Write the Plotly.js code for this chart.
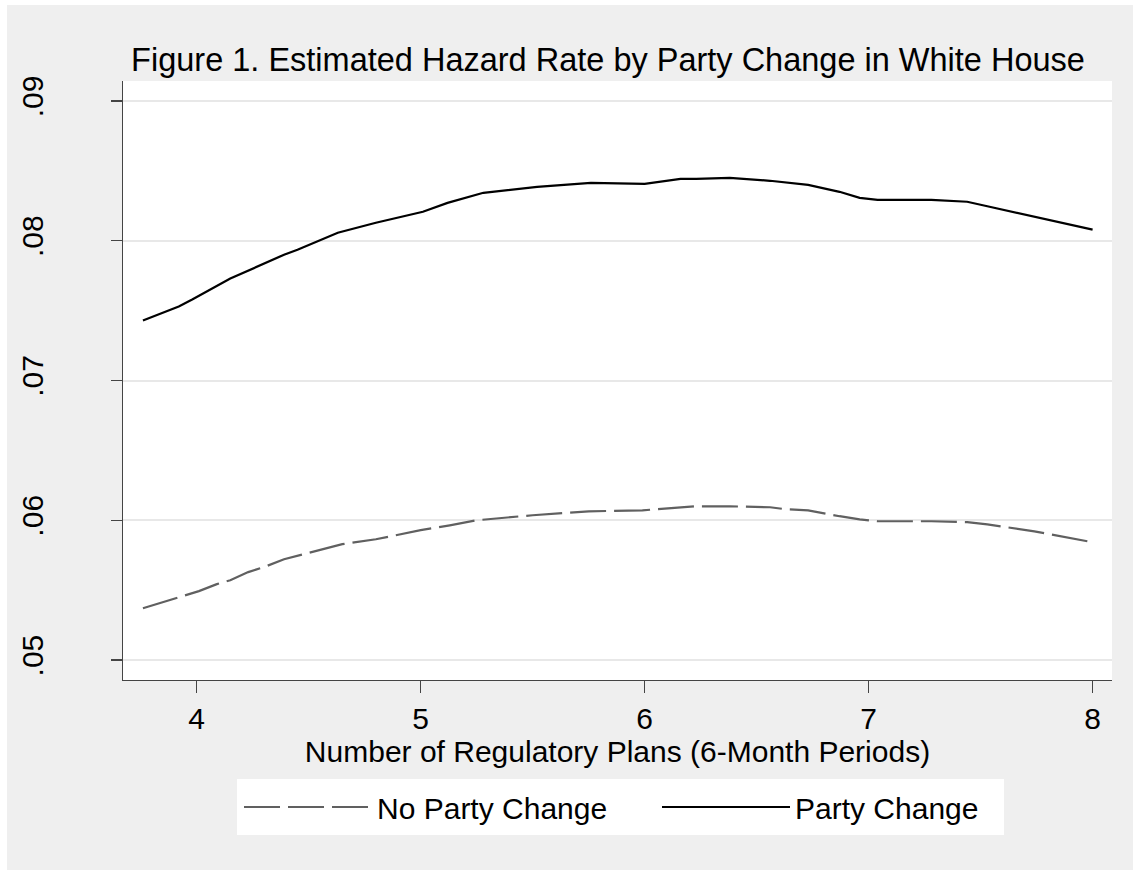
<!DOCTYPE html>
<html>
<head>
<meta charset="utf-8">
<script src="https://cdn.plot.ly/plotly-3.0.1.min.js"></script>
<style>
  html, body { margin: 0; padding: 0; background: #ffffff; }
  #chart { position: absolute; left: 7px; top: 5px; width: 1126px; height: 865px; }
</style>
</head>
<body>
<div id="chart"></div>
<script>
// ---- data ----
const xNoChange = [3.76, 3.85, 3.90, 4.01, 4.09, 4.15, 4.23, 4.31, 4.39, 4.51, 4.65, 4.80, 5.00, 5.13, 5.25, 5.50, 5.75, 5.99, 6.16, 6.23, 6.38, 6.56, 6.63, 6.73, 6.87, 6.96, 7.04, 7.28, 7.44, 7.53, 7.74, 7.86, 8.00];
const yNoChange = [0.05371, 0.05414, 0.05443, 0.05493, 0.05543, 0.05571, 0.05629, 0.05671, 0.05721, 0.05771, 0.05829, 0.05864, 0.05929, 0.05964, 0.06000, 0.06036, 0.06064, 0.06071, 0.06093, 0.06100, 0.06100, 0.06093, 0.06079, 0.06071, 0.06029, 0.06007, 0.05993, 0.05993, 0.05986, 0.05971, 0.05921, 0.05886, 0.05843];

const xChange = [3.76, 3.92, 3.98, 4.15, 4.39, 4.45, 4.63, 4.80, 5.01, 5.12, 5.28, 5.52, 5.76, 5.94, 6.00, 6.16, 6.23, 6.38, 6.56, 6.73, 6.87, 6.96, 7.04, 7.28, 7.44, 7.54, 7.74, 8.00];
const yChange = [0.07429, 0.07529, 0.07579, 0.07729, 0.07900, 0.07936, 0.08057, 0.08129, 0.08207, 0.08271, 0.08343, 0.08386, 0.08414, 0.08407, 0.08407, 0.08443, 0.08443, 0.08450, 0.08429, 0.08400, 0.08350, 0.08307, 0.08293, 0.08293, 0.08279, 0.08243, 0.08171, 0.08079];

const seriesNames = ["No Party Change", "Party Change"];
const xTickVals = [4, 5, 6, 7, 8];
const yTickVals = [0.05, 0.06, 0.07, 0.08, 0.09];
const yTickText = [".05", ".06", ".07", ".08", ".09"];

const titleText = "Figure 1. Estimated Hazard Rate by Party Change in White House";
const xTitleText = "Number of Regulatory Plans (6-Month Periods)";

const FONT = "Liberation Sans, Arial, Helvetica, sans-serif";

const traces = [
  {
    x: xNoChange, y: yNoChange, name: seriesNames[0], type: "scatter", mode: "lines",
    line: { color: "#606060", width: 2.2, dash: "36px,8px" },
    legendwidth: 275
  },
  {
    x: xChange, y: yChange, name: seriesNames[1], type: "scatter", mode: "lines",
    line: { color: "#000000", width: 2.2 },
    legendwidth: 202
  }
];

const layout = {
  width: 1126, height: 865,
  paper_bgcolor: "#efefef",
  plot_bgcolor: "#ffffff",
  margin: { l: 116, r: 21, t: 76, b: 190 },
  font: { family: FONT, color: "#000000", size: 30 },
  title: {
    text: titleText,
    font: { family: FONT, size: 32.5, color: "#000000" },
    xref: "container", x: 601 / 1126, xanchor: "center",
    yref: "container", y: 1 - 55 / 865, yanchor: "middle"
  },
  xaxis: {
    range: [3.671, 8.0866],
    tickmode: "array", tickvals: xTickVals,
    ticks: "outside", ticklen: 12, tickwidth: 1.3, tickcolor: "#444444",
    showline: true, linecolor: "#444444", linewidth: 1.3,
    showgrid: false, zeroline: false,
    tickfont: { family: FONT, size: 30, color: "#000000" },
    ticklabelstandoff: 0,
    title: { text: xTitleText, font: { family: FONT, size: 30, color: "#000000" }, standoff: 0 }
  },
  yaxis: {
    range: [0.048571, 0.091429],
    tickmode: "array", tickvals: yTickVals, ticktext: yTickText,
    ticks: "outside", ticklen: 11, tickwidth: 1.3, tickcolor: "#444444",
    showline: true, linecolor: "#444444", linewidth: 1.3,
    showgrid: true, gridcolor: "#e8e8e8", gridwidth: 2,
    zeroline: false,
    tickangle: -90,
    tickfont: { family: FONT, size: 30, color: "#000000" },
    ticklabelstandoff: 56
  },
  showlegend: true,
  legend: {
    orientation: "h",
    x: (230 - 116) / 989, xanchor: "left",
    y: -99 / 599, yanchor: "top",
    bgcolor: "#ffffff", bordercolor: "#ffffff", borderwidth: 2,
    font: { family: FONT, size: 30, color: "#000000" },
    itemwidth: 128,
    traceorder: "normal"
  }
};

Plotly.newPlot("chart", traces, layout, { displayModeBar: false, staticPlot: true });
</script>
</body>
</html>
